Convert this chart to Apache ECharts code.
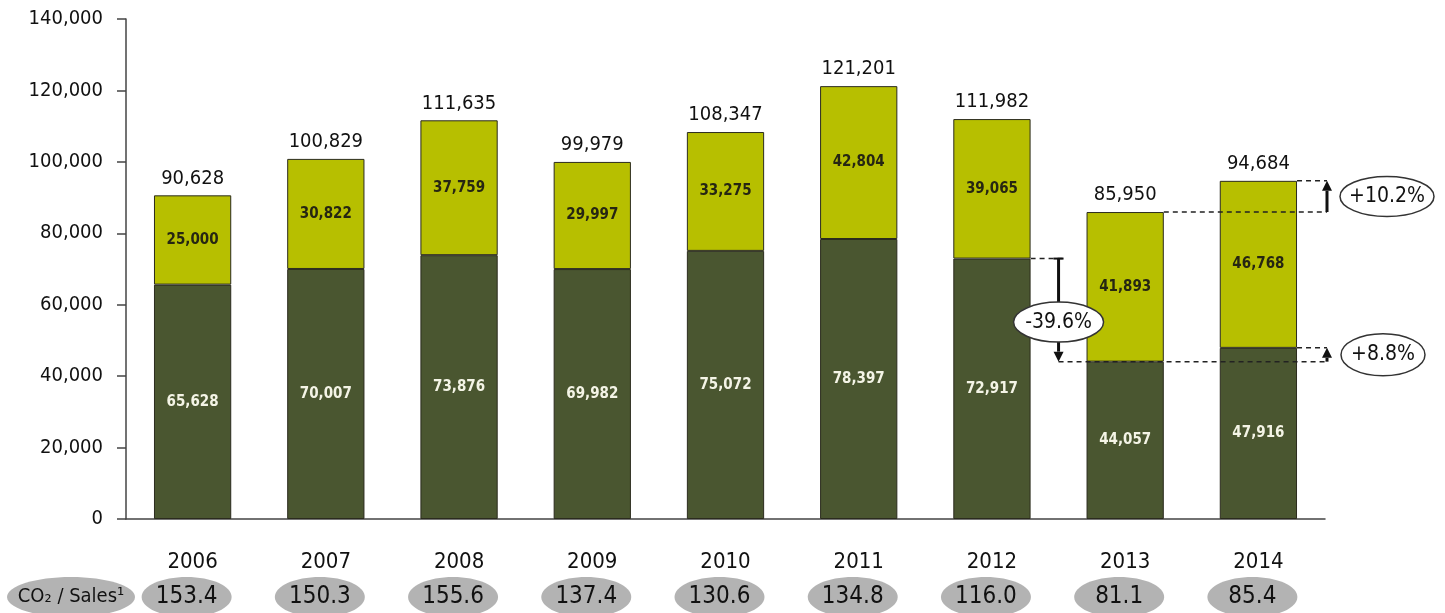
<!DOCTYPE html>
<html><head><meta charset="utf-8">
<script src="https://cdn.jsdelivr.net/npm/echarts@6/dist/echarts.min.js"></script>
<style>html,body{margin:0;padding:0;background:#fff}#c{width:1445px;height:613px}</style>
</head><body><div id="c"></div>
<script>
const years = ['2006','2007','2008','2009','2010','2011','2012','2013','2014'];
const darkValues = [65628, 70007, 73876, 69982, 75072, 78397, 72917, 44057, 47916];
const lightValues = [25000, 30822, 37759, 29997, 33275, 42804, 39065, 41893, 46768];
const totals = [90628, 100829, 111635, 99979, 108347, 121201, 111982, 85950, 94684];
const co2PerSales = ['153.4','150.3','155.6','137.4','130.6','134.8','116.0','81.1','85.4'];
const co2Title = 'CO₂ / Sales¹';
const yMin = 0, yMax = 140000, yStep = 20000;
const changeDark2013 = '-39.6%';
const changeTotal2014 = '+10.2%';
const changeDark2014 = '+8.8%';

const FONT = "'DejaVu Sans Condensed','DejaVu Sans',sans-serif";
const BAR_PCT = 0.58;
const fmt = v => Number(v).toLocaleString('en-US');
const chart = echarts.init(document.getElementById('c'), null, {renderer: 'canvas'});

chart.setOption({
  animation: false,
  backgroundColor: '#fff',
  grid: {left: 126, right: 120, top: 19, bottom: 94},
  xAxis: {
    type: 'category', data: years,
    axisLine: {lineStyle: {color: '#444', width: 1.5}},
    axisTick: {show: false},
    axisLabel: {margin: 32, fontSize: 22, color: '#111', fontFamily: FONT}
  },
  yAxis: {
    type: 'value', min: yMin, max: yMax, interval: yStep,
    axisLine: {show: true, lineStyle: {color: '#444', width: 1.5}},
    axisTick: {show: true, length: 9, lineStyle: {color: '#444', width: 1.5}},
    splitLine: {show: false},
    axisLabel: {margin: 23, fontSize: 20, color: '#111', fontFamily: FONT, formatter: fmt}
  },
  series: [
    {type: 'bar', stack: 't', data: darkValues, barWidth: (BAR_PCT * 100) + '%',
     itemStyle: {color: '#4a5630', borderColor: '#2b2b1e', borderWidth: 1},
     label: {show: true, position: 'inside', color: '#f4f4e6', fontSize: 15, fontWeight: 'bold', fontFamily: FONT,
             formatter: p => fmt(p.value)}},
    {type: 'bar', stack: 't', data: lightValues,
     itemStyle: {color: '#b7bf00', borderColor: '#2b2b1e', borderWidth: 1},
     label: {show: true, position: 'inside', color: '#262612', fontSize: 15, fontWeight: 'bold', fontFamily: FONT,
             formatter: p => fmt(p.value)}},
    {type: 'scatter', data: totals, symbolSize: 0, silent: true, z: 5,
     itemStyle: {opacity: 1},
     label: {show: true, position: 'top', distance: 7, color: '#111', fontSize: 20, fontFamily: FONT,
             formatter: p => fmt(p.value)}}
  ]
});

function drawAnnotations() {
  const p = (i, v) => chart.convertToPixel({gridIndex: 0}, [i, v]);
  const band = p(1, 0)[0] - p(0, 0)[0];
  const hw = band * BAR_PCT / 2;
  const axisX = p(0, 0)[0] - band / 2;
  const els = [];
  const dash = (x1, y1, x2, y2) => els.push({type: 'line', z: 100,
    shape: {x1, y1, x2, y2}, style: {stroke: '#222', lineWidth: 1.5, lineDash: [5, 4]}});
  const arrow = (x, yFrom, yTo, cap) => {
    const dir = yTo > yFrom ? 1 : -1;
    const head = 10;
    els.push({type: 'line', z: 101, shape: {x1: x, y1: yFrom, x2: x, y2: yTo - dir * head},
      style: {stroke: '#111', lineWidth: 3}});
    els.push({type: 'polygon', z: 101, shape: {points: [[x - 5, yTo - dir * head], [x + 5, yTo - dir * head], [x, yTo]]},
      style: {fill: '#111'}});
    if (cap) els.push({type: 'line', z: 101, shape: {x1: x - 5, y1: yFrom, x2: x + 5, y2: yFrom},
      style: {stroke: '#111', lineWidth: 2}});
  };
  const ell = (cx, cy, rx, ry, text, fill, stroke, fs) => els.push({type: 'ellipse', z: 102,
    shape: {cx, cy, rx, ry}, style: {fill, stroke: stroke || null, lineWidth: stroke ? 1.5 : 0},
    textContent: {style: {text, fontSize: fs, fontFamily: FONT, fill: '#111'}, z: 103},
    textConfig: {position: 'inside'}});

  // CO2/Sales row
  ell(axisX - 55, 597, 64, 20, co2Title, '#b3b3b3', null, 20);
  co2PerSales.forEach((t, i) => ell(p(i, 0)[0] - 6, 597, 45, 20, t, '#b3b3b3', null, 24));

  // change annotations
  const xMid = (p(6, 0)[0] + p(7, 0)[0]) / 2;
  const xR = p(8, 0)[0] + band / 2 + 2;
  const yD12 = p(6, darkValues[6])[1];
  const yD13 = p(7, darkValues[7])[1];
  const yT13 = p(7, totals[7])[1];
  const yT14 = p(8, totals[8])[1];
  const yD14 = p(8, darkValues[8])[1];

  dash(p(6, 0)[0] + hw, yD12, xMid + 4, yD12);
  dash(xMid, yD13, xR, yD13);
  dash(p(7, 0)[0] + hw, yT13, xR, yT13);
  dash(p(8, 0)[0] + hw, yT14, xR, yT14);
  dash(p(8, 0)[0] + hw, yD14, xR, yD14);

  arrow(xMid, yD12, yD13, true);
  arrow(xR, yT13, yT14, false);
  arrow(xR, yD13, yD14, false);

  ell(xMid, (yD12 + yD13) / 2 + 12, 45, 20, changeDark2013, '#fff', '#333', 21);
  ell(xR + 60, (yT13 + yT14) / 2, 47, 20, changeTotal2014, '#fff', '#333', 21);
  ell(xR + 56, (yD13 + yD14) / 2, 42, 21, changeDark2014, '#fff', '#333', 21);

  chart.setOption({graphic: {elements: els}});
}
drawAnnotations();
</script>
</body></html>
